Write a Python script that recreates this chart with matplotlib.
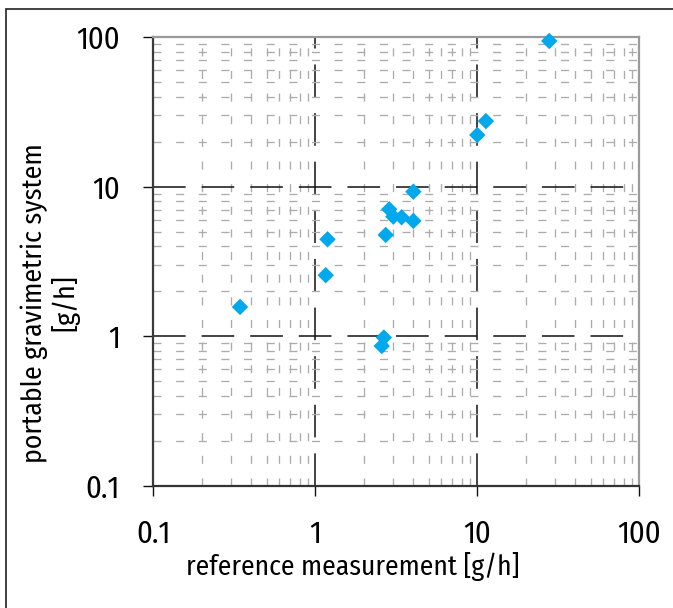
import matplotlib
matplotlib.use("Agg")
import matplotlib.pyplot as plt
from matplotlib.ticker import LogLocator, FixedLocator, NullFormatter
from matplotlib.patches import Rectangle
from matplotlib import font_manager

# pick a condensed sans like the original's typeface, if one is there
wanted = ['Fira Sans Condensed', 'Open Sans Condensed', 'Roboto Condensed',
          'PT Sans Narrow', 'Asap Condensed', 'Barlow Semi Condensed', 'Liberation Sans']
have = {f.name for f in font_manager.fontManager.ttflist}
family = [n for n in wanted if n in have] + ['DejaVu Sans']
plt.rcParams['font.family'] = family
plt.rcParams['lines.scale_dashes'] = False

# reference measurement [g/h] vs portable gravimetric system [g/h]
reference = [0.343, 1.16, 1.19, 2.57, 2.65, 2.72, 2.86, 3.03, 3.41, 4.03, 4.03, 10.0, 11.3, 27.8]
portable = [1.57, 2.56, 4.45, 0.86, 0.98, 4.76, 7.07, 6.31, 6.25, 9.27, 5.91, 22.2, 27.5, 94.5]

ticks = [0.1, 1, 10, 100]
tick_labels = ["0.1", "1", "10", "100"]

fig = plt.figure(figsize=(6.73, 6.08), dpi=100)
ax = fig.add_axes([153.3 / 673, 1 - 485.7 / 608, 486 / 673, 448.4 / 608])

ax.set_xscale('log')
ax.set_yscale('log')
ax.set_xlim(0.1, 100)
ax.set_ylim(0.1, 100)

ax.xaxis.set_major_locator(FixedLocator(ticks))
ax.yaxis.set_major_locator(FixedLocator(ticks))
ax.set_xticklabels(tick_labels)
ax.set_yticklabels(tick_labels)
ax.xaxis.set_minor_locator(LogLocator(base=10, subs=range(2, 10)))
ax.yaxis.set_minor_locator(LogLocator(base=10, subs=range(2, 10)))
ax.xaxis.set_minor_formatter(NullFormatter())
ax.yaxis.set_minor_formatter(NullFormatter())

ax.grid(True, which='minor', color='#acacac', linewidth=0.95, linestyle=(0, (5.8, 10.5)))
ax.grid(True, which='major', color='#111111', linewidth=1.1, linestyle=(0, (23.5, 11.5)))
ax.set_axisbelow(True)

ax.tick_params(which='major', direction='out', length=7, width=1, color='#111111',
               labelsize=22, pad=17)
ax.tick_params(which='minor', length=0)

ax.spines['left'].set_color('#3a3a3a')
ax.spines['bottom'].set_color('#333333')
ax.spines['top'].set_color('#9a9a9a')
ax.spines['right'].set_color('#9a9a9a')
for s in ax.spines.values():
    s.set_linewidth(1.6)

ax.scatter(reference, portable, marker='D', s=70, color='#00a9ec', edgecolors='none',
           zorder=3, clip_on=False)

ax.set_xlabel("reference measurement [g/h]", fontsize=19.8)
ax.xaxis.set_label_coords(0.411, -0.181)
ax.xaxis.label.set_va('center')

ax.set_ylabel("portable gravimetric system\n[g/h]", fontsize=20, linespacing=1.08,
              ha='center', va='center', multialignment='center')
ax.yaxis.set_label_coords(-0.2125, 0.4075)

# frame of the original picture (left and top edges visible)
fig.add_artist(Rectangle((5.7 / 673, -0.5), 2, 0.5 + (608 - 9) / 608,
                         transform=fig.transFigure, fill=False,
                         edgecolor='#333333', linewidth=1.3))

fig.savefig("out.png", dpi=100)
